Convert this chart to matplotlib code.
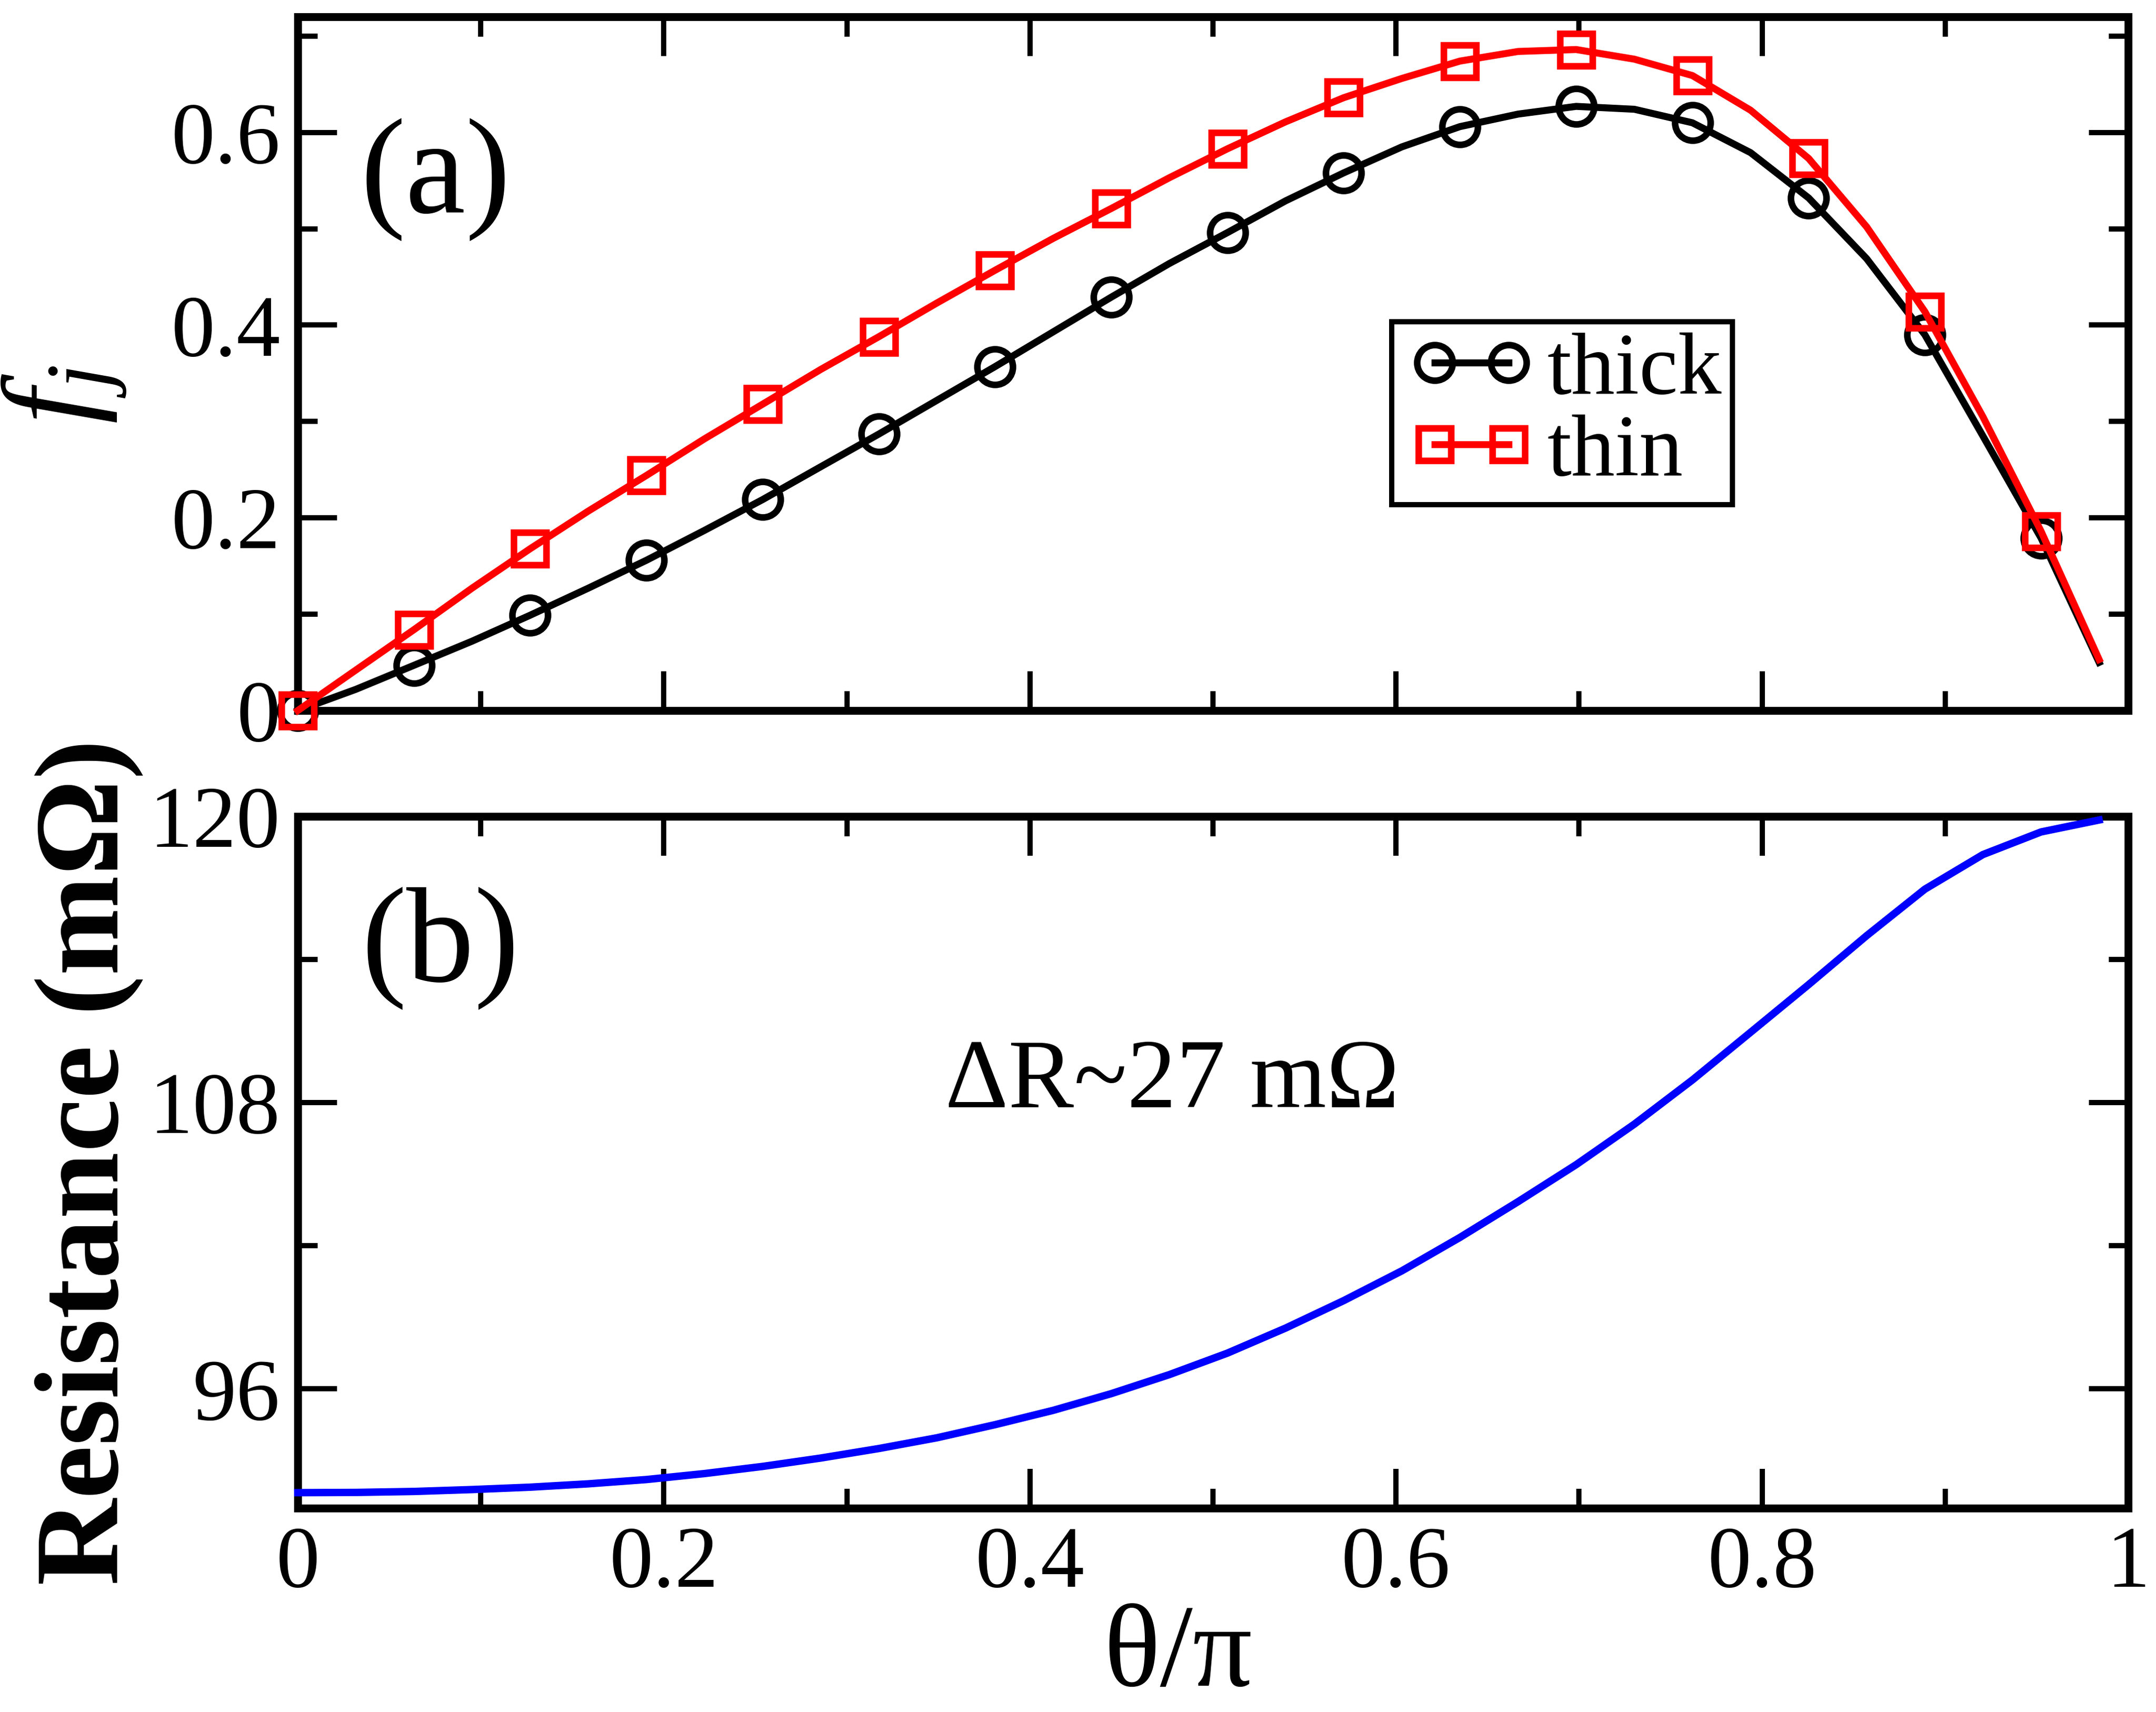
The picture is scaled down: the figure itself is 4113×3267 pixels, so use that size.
import matplotlib
matplotlib.use("Agg")
import matplotlib.pyplot as plt
from matplotlib.ticker import MultipleLocator, FuncFormatter
from matplotlib.legend_handler import HandlerLine2D
from matplotlib.lines import Line2D

# ---------------- data ----------------
theta = [0.0000, 0.0317, 0.0635, 0.0952, 0.1270, 0.1587, 0.1905, 0.2222,
         0.2540, 0.2857, 0.3175, 0.3492, 0.3810, 0.4127, 0.4444, 0.4762,
         0.5079, 0.5397, 0.5714, 0.6032, 0.6349, 0.6667, 0.6984, 0.7302,
         0.7619, 0.7937, 0.8254, 0.8571, 0.8889, 0.9206, 0.9524, 0.9841]

fj_thick = [0.000, 0.022, 0.047, 0.072, 0.099, 0.127, 0.156, 0.187,
            0.219, 0.253, 0.287, 0.322, 0.357, 0.393, 0.429, 0.464,
            0.496, 0.529, 0.558, 0.585, 0.606, 0.619, 0.627, 0.624,
            0.610, 0.579, 0.532, 0.469, 0.390, 0.285, 0.179, 0.050]

fj_thin = [0.000, 0.042, 0.084, 0.127, 0.168, 0.207, 0.244, 0.282,
           0.318, 0.354, 0.388, 0.423, 0.457, 0.490, 0.521, 0.553,
           0.583, 0.611, 0.636, 0.656, 0.674, 0.684, 0.686, 0.676,
           0.659, 0.623, 0.573, 0.502, 0.414, 0.305, 0.186, 0.053]

resistance = [91.65, 91.66, 91.70, 91.78, 91.88, 92.02, 92.20, 92.45,
              92.75, 93.10, 93.50, 93.95, 94.50, 95.10, 95.80, 96.60,
              97.50, 98.55, 99.70, 100.95, 102.35, 103.85, 105.40, 107.10,
              108.95, 110.95, 112.95, 115.00, 116.95, 118.40, 119.35, 119.85]

series_labels = ["thick", "thin"]
panel_labels = ["(a)", "(b)"]
annotation = "ΔR~27 mΩ"
xlabel = "θ/π"
ylabel_top = "$f_j$"
ylabel_bottom = "Resistance (mΩ)"

# ---------------- style ----------------
plt.rcParams["font.family"] = ["Liberation Serif", "DejaVu Serif"]
plt.rcParams["mathtext.fontset"] = "custom"
plt.rcParams["mathtext.rm"] = "Liberation Serif"
plt.rcParams["mathtext.it"] = "Liberation Serif:italic"
plt.rcParams["mathtext.bf"] = "Liberation Serif:bold"

W, H, DPI = 4113, 3267, 300
fig = plt.figure(figsize=(W / DPI, H / DPI), dpi=DPI)

L, R = 568, 4060
ax1 = fig.add_axes([L / W, 1 - 1356 / H, (R - L) / W, (1356 - 32) / H])
ax2 = fig.add_axes([L / W, 1 - 2878 / H, (R - L) / W, (2878 - 1558) / H])

spine_lw = 3.6
tick_fs = 40

def fmt(v, pos):
    return "0" if abs(v) < 1e-9 else f"{v:g}"

for ax in (ax1, ax2):
    for s in ax.spines.values():
        s.set_linewidth(spine_lw)
        s.set_color("black")
    ax.tick_params(which="both", direction="in", top=True, right=True,
                   width=2.4, colors="black", labelsize=tick_fs, pad=8)
    ax.tick_params(which="major", length=18)
    ax.tick_params(which="minor", length=9)
    ax.set_xlim(0, 1)
    ax.xaxis.set_major_locator(MultipleLocator(0.2))
    ax.xaxis.set_minor_locator(MultipleLocator(0.1))
    ax.xaxis.set_major_formatter(FuncFormatter(fmt))

# ---------------- panel (a) ----------------
line_lw = 3.2
ax1.plot(theta, fj_thick, color="black", lw=line_lw, marker="o",
         markevery=2, ms=16.3, mew=3.0, mfc="none", mec="black",
         label=series_labels[0], clip_on=False, zorder=3)
ax1.plot(theta, fj_thin, color="#ff0000", lw=line_lw, marker="s",
         markevery=2, ms=14.7, mew=3.0, mfc="none", mec="#ff0000",
         label=series_labels[1], clip_on=False, zorder=4)
ax1.set_ylim(0, 0.72)
ax1.yaxis.set_major_locator(MultipleLocator(0.2))
ax1.yaxis.set_minor_locator(MultipleLocator(0.1))
ax1.yaxis.set_major_formatter(FuncFormatter(fmt))
ax1.tick_params(axis="x", labelbottom=False)

ax1.set_ylabel(ylabel_top, fontsize=58)
ax1.yaxis.set_label_coords((245 - L) / (R - L), (1356 - 753) / 1324)

ax1.text((831 - L) / (R - L), (1356 - 405) / 1324, panel_labels[0],
         transform=ax1.transAxes, ha="center", va="baseline", fontsize=62)

leg = ax1.legend(loc="upper left",
                 bbox_to_anchor=(2655 / W, 1 - 614 / H),
                 bbox_transform=fig.transFigure, borderaxespad=0,
                 fontsize=40, numpoints=2, handlelength=1.59,
                 handletextpad=0.07, borderpad=0.12, labelspacing=0.02,
                 fancybox=False, framealpha=1, edgecolor="black",
                 handler_map={Line2D: HandlerLine2D(marker_pad=0.37)})
leg.get_frame().set_linewidth(2.4)

# ---------------- panel (b) ----------------
ax2.plot(theta, resistance, color="#0000ff", lw=3.4, clip_on=False, zorder=3)
ax2.set_ylim(91, 120)
ax2.yaxis.set_major_locator(MultipleLocator(12))
ax2.yaxis.set_minor_locator(MultipleLocator(6))
ax2.yaxis.set_major_formatter(FuncFormatter(fmt))

ax2.set_xlabel(xlabel, fontsize=54)
ax2.xaxis.set_label_coords((2247 - L) / (R - L), (2878 - 3061) / 1320)
ax2.set_ylabel(ylabel_bottom, fontsize=55, fontweight="bold")
ax2.yaxis.set_label_coords((273 - L) / (R - L), 0.5)

ax2.text((840 - L) / (R - L), (2878 - 1872) / 1320, panel_labels[1],
         transform=ax2.transAxes, ha="center", va="baseline", fontsize=62)
ax2.text((2236 - L) / (R - L), (2878 - 2113) / 1320, annotation,
         transform=ax2.transAxes, ha="center", va="baseline", fontsize=45)

fig.savefig("out.png", dpi=DPI, facecolor="white")
